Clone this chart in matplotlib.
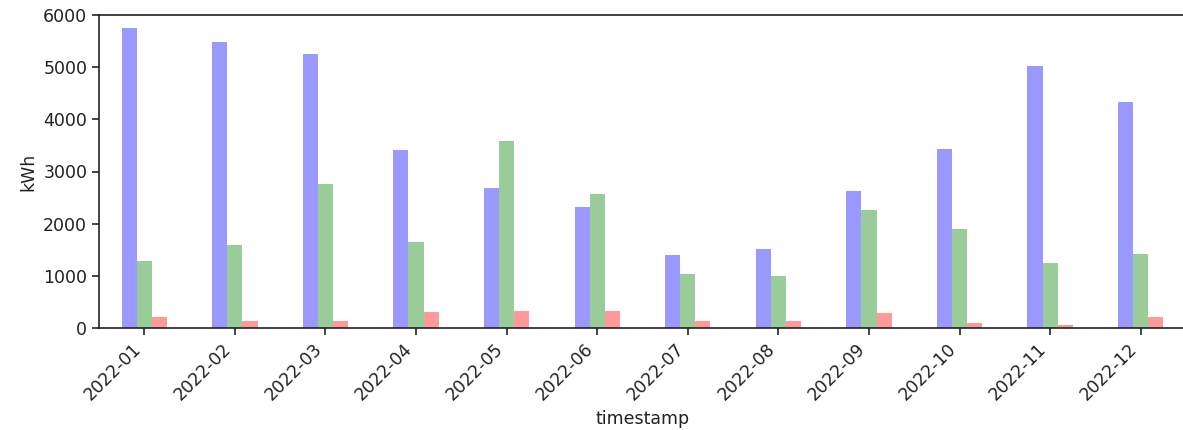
import numpy as np
import matplotlib
matplotlib.use('Agg')
import matplotlib.pyplot as plt

months = ['2022-01', '2022-02', '2022-03', '2022-04', '2022-05', '2022-06',
          '2022-07', '2022-08', '2022-09', '2022-10', '2022-11', '2022-12']
blue_vals = [5740, 5480, 5250, 3405, 2677, 2319, 1396, 1522, 2631, 3428, 5015, 4327]
green_vals = [1287, 1599, 2753, 1648, 3581, 2574, 1032, 1006, 2268, 1904, 1243, 1421]
red_vals = [210, 134, 134, 312, 337, 337, 134, 134, 287, 101, 57, 210]

series = [(blue_vals, 'blue'), (green_vals, 'green'), (red_vals, 'red')]

dpi = 100
fig = plt.figure(figsize=(11.83, 4.30), dpi=dpi)
ax = fig.add_axes([99 / 1183, 101.7 / 430, 1087 / 1183, 313.6 / 430])

x = np.arange(len(months))
width = 0.5 / len(series)
for i, (vals, color) in enumerate(series):
    offset = (i - 1) * width
    ax.bar(x + offset, vals, width=width, color=color, alpha=0.4, linewidth=0)

ax.set_xlim(-0.5, len(months) - 0.5)
ax.set_ylim(0, 6000)
ax.set_yticks([0, 1000, 2000, 3000, 4000, 5000, 6000])
ax.set_xticks(x)
ax.set_xticklabels(months, rotation=45, ha='right', rotation_mode='default')
ax.tick_params(labelsize=12.5, width=1.2, length=5, colors='#222222')
for s in ax.spines.values():
    s.set_linewidth(1.2)
    s.set_color('#222222')

ax.set_ylabel('kWh', fontsize=12.5, color='#222222')
ax.set_xlabel('timestamp', fontsize=12.5, color='#222222')

fig.savefig('out.png', dpi=dpi)
